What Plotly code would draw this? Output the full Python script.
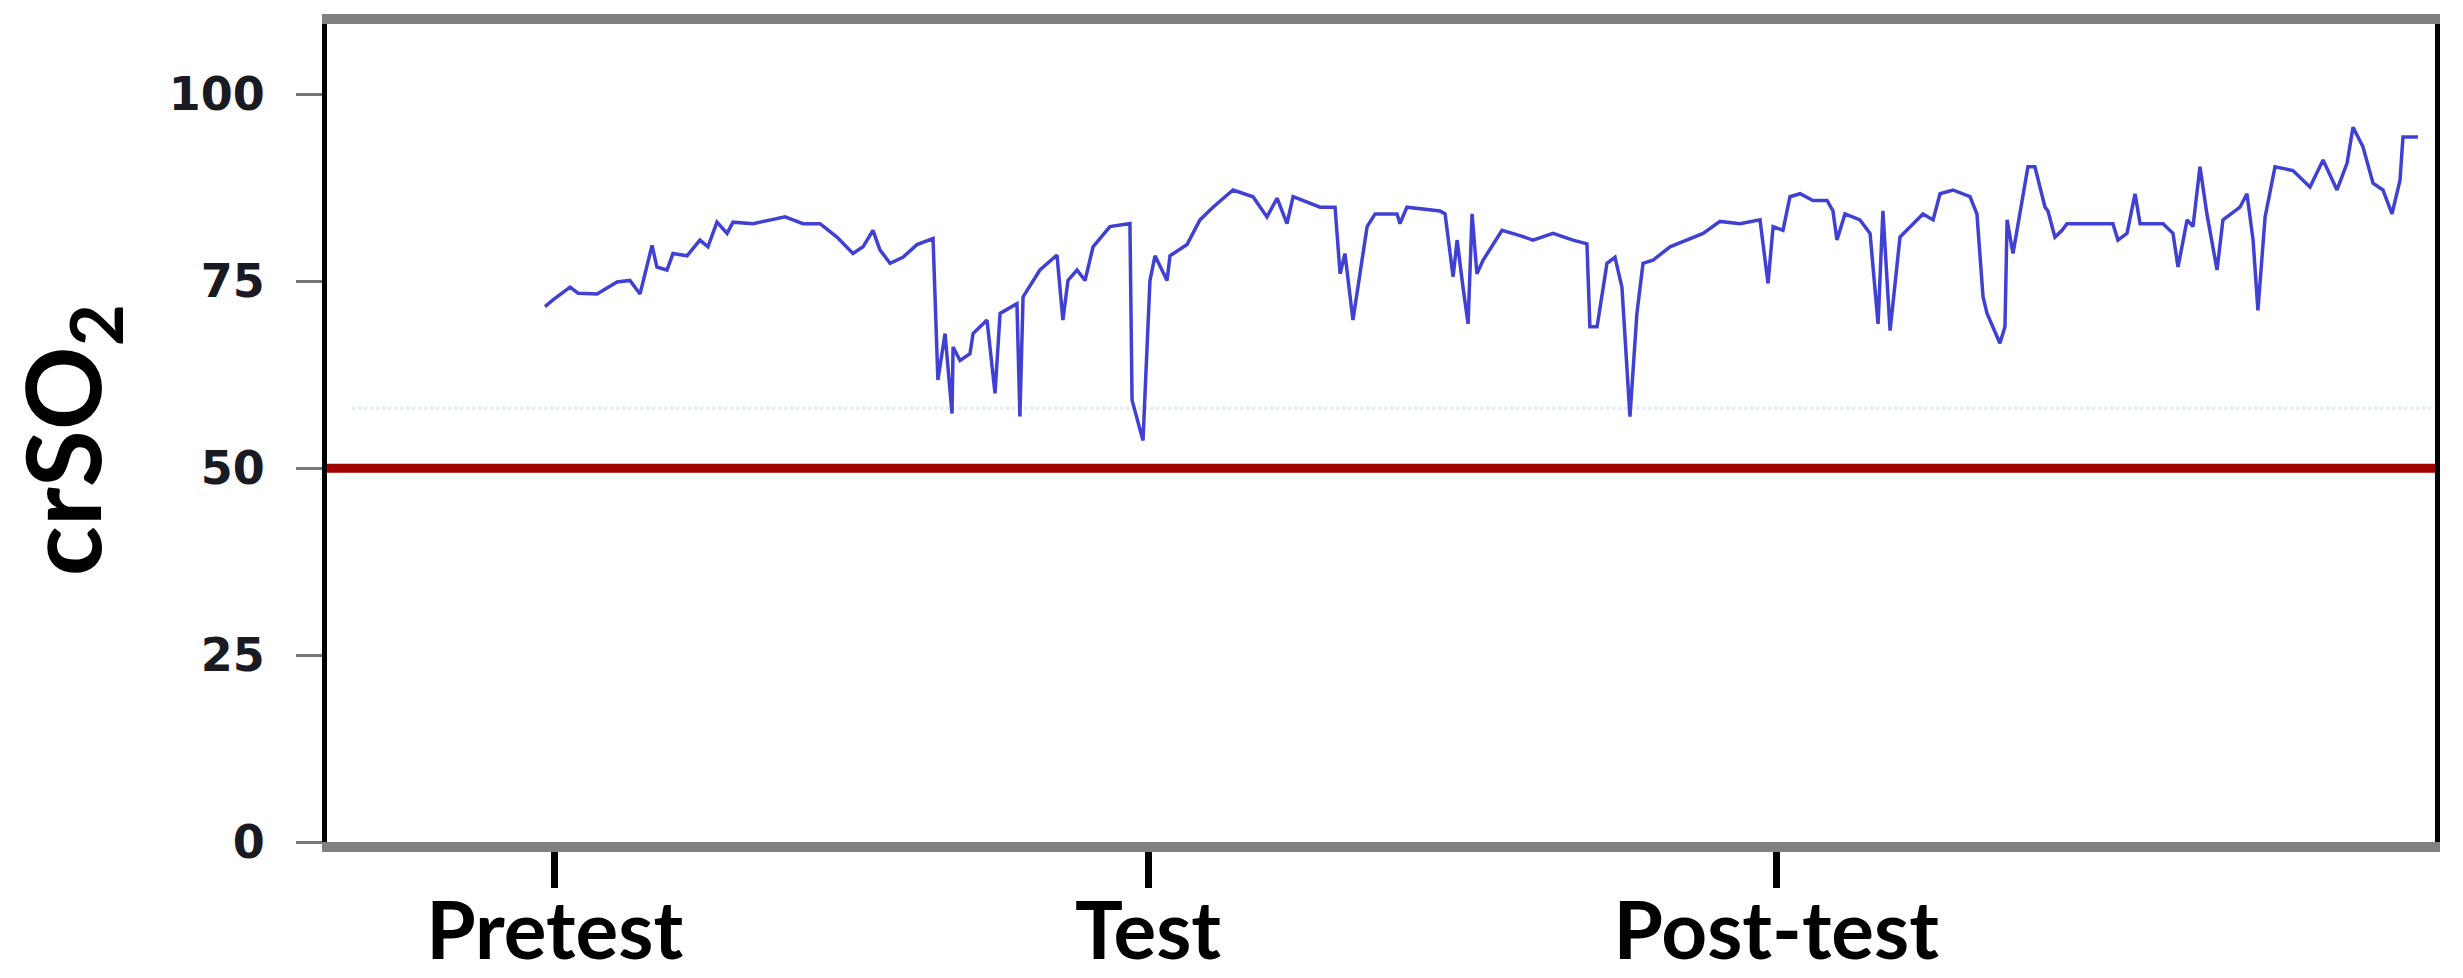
import plotly.graph_objects as go

# time (arbitrary units, 0-100 across the plot) and crSO2 values
time = [10.34, 10.72, 11.53, 11.91, 12.81, 13.76, 14.37, 14.85, 15.42, 15.65, 16.13, 16.41,
        17.08, 17.69, 18.07, 18.50, 18.98, 19.26, 20.21, 21.73, 22.58, 23.39, 24.19, 24.95,
        25.43, 25.90, 26.23, 26.71, 27.32, 27.99, 28.75, 28.98, 29.32, 29.65, 29.70, 30.03,
        30.50, 30.65, 31.31, 31.69, 31.93, 32.73, 32.87, 33.02, 33.82, 34.63, 34.91, 35.15,
        35.58, 35.96, 36.34, 37.14, 38.09, 38.19, 38.71, 39.04, 39.28, 39.85, 39.99, 40.80,
        41.41, 42.03, 42.98, 43.93, 44.59, 45.07, 45.54, 45.83, 47.11, 47.82, 48.06, 48.29,
        48.67, 49.00, 49.24, 49.34, 49.72, 50.76, 50.90, 51.23, 52.80, 53.04, 53.42, 53.61,
        53.89, 54.13, 54.32, 54.55, 54.84, 55.31, 55.74, 56.59, 57.21, 58.16, 59.11, 59.77,
        59.91, 60.25, 60.72, 61.10, 61.43, 61.81, 62.14, 62.43, 62.90, 63.71, 64.52, 65.28,
        66.08, 67.03, 67.98, 68.36, 68.60, 69.07, 69.40, 69.88, 70.49, 71.16, 71.44, 71.63,
        72.01, 72.72, 73.20, 73.58, 73.81, 74.15, 74.62, 75.24, 75.71, 76.19, 76.52, 77.13,
        77.94, 78.27, 78.56, 78.75, 79.36, 79.60, 79.70, 79.98, 80.31, 80.69, 81.02, 81.50,
        81.64, 81.97, 82.31, 82.54, 84.72, 84.96, 85.39, 85.77, 86.01, 87.10, 87.57, 87.81,
        88.24, 88.52, 88.85, 89.18, 89.66, 89.94, 90.75, 91.08, 91.37, 91.60, 91.94, 92.41,
        93.26, 94.07, 94.69, 95.35, 95.83, 96.11, 96.58, 97.06, 97.53, 97.96, 98.34, 98.48,
        99.19]

crso2 = [71.6, 72.5, 74.2, 73.4, 73.3, 74.9, 75.1, 73.3, 79.8, 76.9, 76.5, 78.7,
         78.4, 80.5, 79.6, 82.9, 81.4, 82.9, 82.7, 83.6, 82.7, 82.7, 80.9, 78.7,
         79.6, 81.8, 79.2, 77.4, 78.2, 79.9, 80.7, 61.8, 68.0, 57.3, 66.2, 64.4,
         65.3, 68.0, 69.8, 60.0, 70.7, 72.0, 56.9, 72.9, 76.5, 78.5, 69.8, 75.1,
         76.5, 75.1, 79.6, 82.3, 82.7, 59.1, 53.7, 75.1, 78.4, 75.1, 78.4, 79.9,
         83.2, 84.9, 87.2, 86.3, 83.6, 86.1, 82.7, 86.3, 84.9, 84.9, 76.0, 78.7,
         69.8, 76.0, 80.9, 82.3, 84.0, 84.0, 82.7, 84.9, 84.4, 84.0, 75.6, 80.5,
         74.2, 69.3, 84.0, 76.0, 77.8, 80.0, 81.8, 81.1, 80.5, 81.4, 80.5, 80.0,
         68.9, 68.9, 77.4, 78.2, 74.2, 56.9, 70.7, 77.4, 77.8, 79.6, 80.5, 81.4,
         83.0, 82.7, 83.2, 74.7, 82.3, 81.8, 86.3, 86.7, 85.8, 85.8, 84.4, 80.5,
         84.0, 83.2, 81.4, 69.3, 84.4, 68.4, 80.9, 82.7, 84.0, 83.2, 86.7, 87.2,
         86.3, 84.0, 72.9, 70.7, 66.7, 68.9, 83.2, 78.7, 84.0, 90.3, 90.3, 84.9,
         84.4, 80.9, 81.8, 82.7, 82.7, 80.5, 81.4, 86.7, 82.7, 82.7, 81.4, 76.9,
         83.2, 82.3, 90.3, 84.0, 76.5, 83.2, 84.9, 86.7, 80.5, 71.1, 83.6, 90.3,
         89.8, 87.6, 91.2, 87.2, 90.8, 95.6, 93.0, 88.1, 87.2, 84.0, 88.5, 94.3,
         94.3]

phase_labels = ["Pretest", "Test", "Post-test"]
phase_times = [10.8, 38.95, 68.75]
y_ticks = [0, 25, 50, 75, 100]
threshold = 50
faint_level = 58

fig = go.Figure()

# faint dotted reference line
fig.add_trace(go.Scatter(x=[1.2, 100], y=[faint_level, faint_level], mode="lines",
                         line=dict(color="#d6ecfa", width=3, dash="dot"),
                         hoverinfo="skip", showlegend=False))
# threshold line
fig.add_trace(go.Scatter(x=[0, 100], y=[threshold, threshold], mode="lines",
                         line=dict(color="#a00000", width=9),
                         hoverinfo="skip", showlegend=False))
# crSO2 trace
fig.add_trace(go.Scatter(x=time, y=crso2, mode="lines",
                         line=dict(color="#4040d2", width=3.5),
                         showlegend=False))

fig.update_layout(
    width=2447, height=970,
    margin=dict(l=319, r=20, t=16, b=136),
    paper_bgcolor="white", plot_bgcolor="white",
    xaxis=dict(range=[0, 100], tickvals=phase_times, ticktext=phase_labels,
               automargin=False,
               showgrid=False, zeroline=False,
               showline=True, linecolor="#808080", linewidth=10, mirror=True,
               ticks="outside", ticklen=36, tickwidth=7, tickcolor="black",
               ticklabelstandoff=-25,
               tickfont=dict(family="Lato", size=80, color="black", weight="bold")),
    yaxis=dict(range=[0, 109.4], tickvals=y_ticks,
               automargin=False,
               showgrid=False, zeroline=False,
               showline=True, linecolor="black", linewidth=5, mirror=True,
               ticks="outside", ticklen=26, tickwidth=3, tickcolor="#777777",
               ticklabelstandoff=22,
               tickfont=dict(family="DejaVu Sans", size=46, color="#1a1a22", weight="bold")),
    annotations=[dict(text="crSO<sub>2</sub>", xref="paper", yref="paper",
                      x=-0.1225, y=0.491, xanchor="center", yanchor="middle",
                      textangle=-90, showarrow=False,
                      font=dict(family="Lato", size=104, color="black", weight="bold"))],
)

fig.write_html("out.html")
